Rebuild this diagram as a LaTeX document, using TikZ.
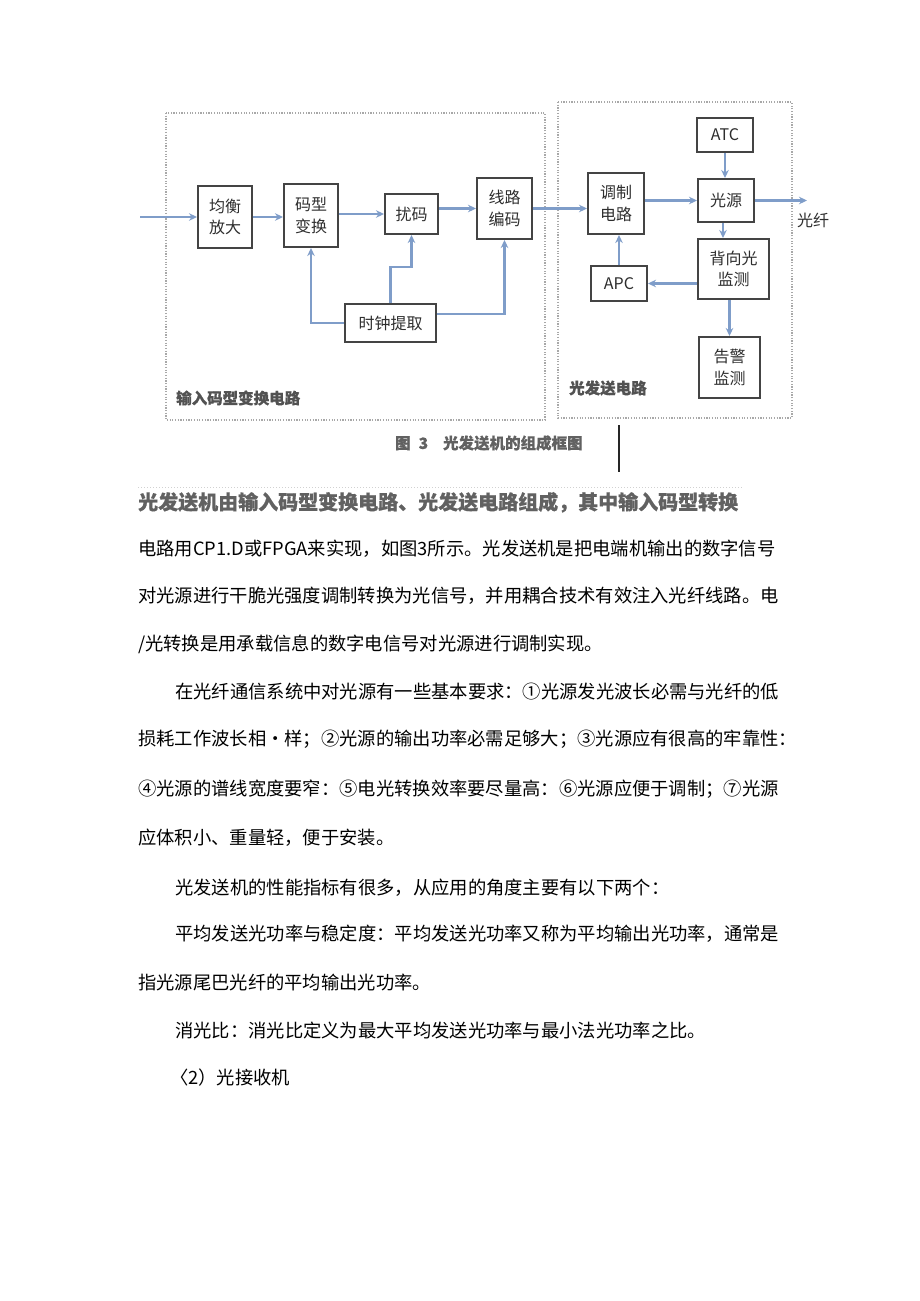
\documentclass[tikz,border=0pt]{standalone}
\usepackage{fontspec}
\setmainfont{Noto Sans CJK SC}
\newfontfamily\cjkfb[FakeBold=0.6]{Noto Sans CJK SC}
\usetikzlibrary{arrows.meta,calc}
\definecolor{arr}{HTML}{7F9DC9}
\definecolor{bord}{HTML}{444444}
\definecolor{grpc}{HTML}{A8A8A8}
\begin{document}
\begin{tikzpicture}[x=1pt,y=-1pt,
 blk/.style={draw=bord, line width=2, fill=white, inner sep=0, align=center, text=black!82, font=\fontsize{16}{21.5}\selectfont},
 conn/.style={draw=arr, line width=2.2, -{Stealth[length=8,width=7.5]}},
 grp/.style={draw=grpc, line width=1.1, dash pattern=on 1.2pt off 1.5pt},
 grplbl/.style={anchor=west, inner sep=0, text=black!68, font=\cjkfb\bfseries\fontsize{15.5}{18}\selectfont},
 txt/.style={anchor=base west, inner sep=0, font=\fontsize{18.3}{22}\selectfont, text=black},
]
\useasboundingbox (0,0) rectangle (920,1301);
\fill[white] (0,0) rectangle (920,1301);

% group frames
\draw[grp] (166,113) rectangle (545,420);
\draw[grp] (558,102) rectangle (792,418);
\node[grplbl] (lblin) at (176,398) {输入码型变换电路};
\node[grplbl] (lblout) at (569,388) {光发送电路};

% blocks
\node[blk, minimum width=54, minimum height=62] (jh) at (225,217) {均衡\\放大};
\node[blk, minimum width=54, minimum height=63] (mx) at (311,215.5) {码型\\变换};
\node[blk, minimum width=53, minimum height=40] (rm) at (411.5,214) {扰码};
\node[blk, minimum width=55, minimum height=61] (xl) at (504.5,208.5) {线路\\编码};
\node[blk, minimum width=91, minimum height=38] (sz) at (390.5,323) {时钟提取};
\node[blk, minimum width=56, minimum height=61] (tz) at (616,203.5) {调制\\电路};
\node[blk, minimum width=56, minimum height=34] (atc) at (725,135) {ATC};
\node[blk, minimum width=56, minimum height=43] (gy) at (726,200.5) {光源};
\node[blk, minimum width=71, minimum height=60] (bx) at (733.5,269) {背向光\\监测};
\node[blk, minimum width=56, minimum height=35] (apc) at (619,283.5) {APC};
\node[blk, minimum width=61, minimum height=61] (gj) at (729.5,367.5) {告警\\监测};

% connectors
\coordinate (in) at (140,217);
\coordinate (fo) at (807,200.5);
\draw[conn] (in) -- (jh.west);
\draw[conn] (jh.east) -- (mx.west |- jh.east);
\draw[conn] (mx.east |- rm.west) -- (rm.west);
\draw[conn] (rm.east |- xl.west) -- (xl.west);
\draw[conn] (xl.east) -- (tz.west |- xl.east);
\draw[conn] (tz.east |- gy.west) -- (gy.west);
\draw[conn] (gy.east) -- (fo);
\node[anchor=west, inner sep=0, text=black!82, font=\fontsize{16}{18}\selectfont] (fiber) at (797,220) {光纤};
\draw[conn] (atc.south) -- (atc.south |- gy.north);
\draw[conn] ([xshift=-3]gy.south) -- ([xshift=-3]gy.south |- bx.north);
\draw[conn] (bx.west |- apc.east) -- (apc.east);
\draw[conn] (apc.north) -- (apc.north |- tz.south);
\draw[conn] (gj.north |- bx.south) -- (gj.north);
\draw[conn] (sz.west) -| (mx.south);
\draw[conn] (sz.north) -- ++(0,-36) -| (rm.south);
\draw[conn] ($(sz.east)+(0,-9)$) -| (xl.south);

% caption
\node[anchor=west, inner sep=0, text=black!62, font=\cjkfb\bfseries\fontsize{15.5}{18}\selectfont] (cap) at (395,443) {图\hspace{8pt}3\hspace{15pt}光发送机的组成框图};
\draw[line width=1.8, black!85] (619,425) -- (619,472);
\draw[draw=black!18, line width=0.8, dash pattern=on 1pt off 2pt] (138,487) -- (742,487);

% body text
\node[txt, text=black!62, font=\cjkfb\bfseries\fontsize{20}{24}\selectfont] (l1) at (138,509.5) {光发送机由输入码型变换电路、光发送电路组成，其中输入码型转换};
\node[txt] (l2) at (138,555) {电路用CP1.D或FPGA来实现，如图3所示。光发送机是把电端机输出的数字信号};
\node[txt] (l3) at (138,602) {对光源进行干脆光强度调制转换为光信号，并用耦合技术有效注入光纤线路。电};
\node[txt] (l4) at (138,650) {/光转换是用承载信息的数字电信号对光源进行调制实现。};
\node[txt] (p1) at (175,698) {在光纤通信系统中对光源有一些基本要求：①光源发光波长必需与光纤的低};
\node[txt] (p2) at (138,745) {损耗工作波长相•样；②光源的输出功率必需足够大；③光源应有很高的牢靠性：};
\node[txt] (p3) at (138,795) {④光源的谱线宽度要窄：⑤电光转换效率要尽量高：⑥光源应便于调制；⑦光源};
\node[txt] (p4) at (138,844) {应体积小、重量轻，便于安装。};
\node[txt] (q1) at (175,894) {光发送机的性能指标有很多，从应用的角度主要有以下两个：};
\node[txt] (q2) at (175,940) {平均发送光功率与稳定度：平均发送光功率又称为平均输出光功率，通常是};
\node[txt] (q3) at (138,989) {指光源尾巴光纤的平均输出光功率。};
\node[txt] (q4) at (175,1037) {消光比：消光比定义为最大平均发送光功率与最小法光功率之比。};
\node[txt] (q5) at (170,1084) {〈2）光接收机};
\end{tikzpicture}
\end{document}
